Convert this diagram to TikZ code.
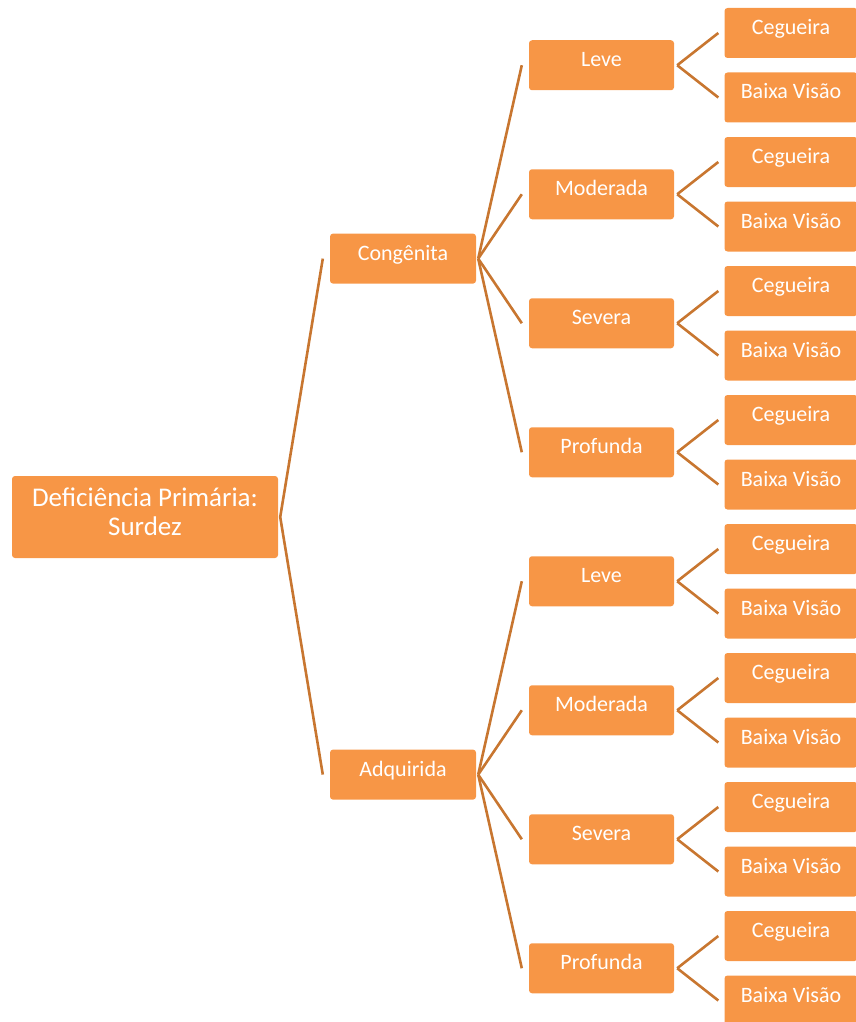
\documentclass[tikz,border=0pt]{standalone}
\usepackage{fontspec}
\setmainfont{Carlito}
\usetikzlibrary{calc}
\definecolor{boxfill}{RGB}{247,150,70}
\definecolor{linkcol}{RGB}{200,118,48}
\begin{document}
\begin{tikzpicture}[x=1pt,y=-1pt,
  box/.style={fill=boxfill, rounded corners=3pt, text=white, inner sep=0pt,
    align=center, font=\fontsize{22}{26}\selectfont,
    text height=15pt, text depth=12pt},
  rootbox/.style={fill=boxfill, rounded corners=3pt, inner sep=0pt,
    minimum width=266pt, minimum height=82pt},
  roottext/.style={text=white, inner sep=0pt, align=center,
    font=\fontsize{27}{29}\selectfont},
  midbox/.style={box, minimum width=146pt, minimum height=50pt},
  leafbox/.style={box, minimum width=133pt, minimum height=50pt},
  link/.style={draw=linkcol, line width=2.6pt},
]
\useasboundingbox (0,0) rectangle (856,1022);

% root and first level
\node[rootbox] (root) at (145,517) {};
\node[roottext] (rootlabel) at (145,511.5) {Deficiência Primária:\\Surdez};
\node[midbox] (a1) at (403,258.6) {Congênita};
\node[midbox] (a2) at (403,774.6) {Adquirida};
\foreach \k in {1,2}
  \draw[link] ($(root.east)+(2,0)$) -- ($(a\k.west)+(-7,0)$);

% second level: degrees of hearing loss
\foreach \lab [count=\i] in {Leve,Moderada,Severa,Profunda,Leve,Moderada,Severa,Profunda}{
  \pgfmathsetmacro{\yc}{65.25+129*(\i-1)}
  \node[midbox, minimum width=145pt] (b\i) at (601.5,\yc) {\lab};
}
\foreach \i in {1,...,4}
  \draw[link] ($(a1.east)+(2,0)$) -- ($(b\i.west)+(-7,0)$);
\foreach \i in {5,...,8}
  \draw[link] ($(a2.east)+(2,0)$) -- ($(b\i.west)+(-7,0)$);

% third level: associated visual impairment
\foreach \i in {1,...,8}{
  \pgfmathsetmacro{\ya}{33+129*(\i-1)}
  \pgfmathsetmacro{\yb}{97.5+129*(\i-1)}
  \node[leafbox] (c\i-1) at (791,\ya) {Cegueira};
  \node[leafbox] (c\i-2) at (791,\yb) {Baixa Visão};
  \draw[link] ($(b\i.east)+(3,0)$) -- ($(c\i-1.west)+(-6,0)$);
  \draw[link] ($(b\i.east)+(3,0)$) -- ($(c\i-2.west)+(-6,0)$);
}
\end{tikzpicture}
\end{document}
